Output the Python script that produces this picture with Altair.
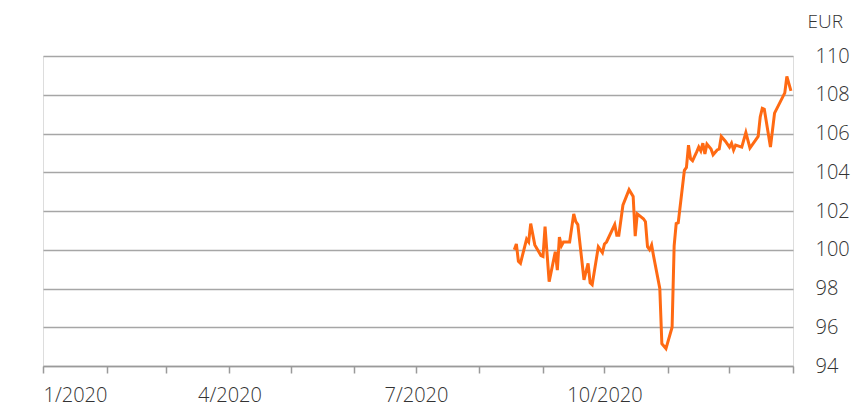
import altair as alt
import pandas as pd

dates = [
    "2020-08-18", "2020-08-19", "2020-08-20", "2020-08-21", "2020-08-24", "2020-08-25",
    "2020-08-26", "2020-08-28", "2020-08-31", "2020-09-01", "2020-09-02", "2020-09-04",
    "2020-09-07", "2020-09-08", "2020-09-09", "2020-09-10", "2020-09-11", "2020-09-14",
    "2020-09-16", "2020-09-17", "2020-09-18", "2020-09-21", "2020-09-23", "2020-09-24",
    "2020-09-25", "2020-09-28", "2020-09-30", "2020-10-01", "2020-10-02", "2020-10-06",
    "2020-10-07", "2020-10-08", "2020-10-10", "2020-10-13", "2020-10-15", "2020-10-16",
    "2020-10-17", "2020-10-20", "2020-10-21", "2020-10-22", "2020-10-23", "2020-10-24",
    "2020-10-25", "2020-10-28", "2020-10-29", "2020-10-31", "2020-11-03", "2020-11-04",
    "2020-11-05", "2020-11-06", "2020-11-09", "2020-11-10", "2020-11-11", "2020-11-12",
    "2020-11-13", "2020-11-15", "2020-11-16", "2020-11-17", "2020-11-18", "2020-11-19",
    "2020-11-20", "2020-11-22", "2020-11-23", "2020-11-25", "2020-11-26", "2020-11-27",
    "2020-11-29", "2020-12-01", "2020-12-02", "2020-12-03", "2020-12-04", "2020-12-07",
    "2020-12-09", "2020-12-11", "2020-12-15", "2020-12-16", "2020-12-17", "2020-12-18",
    "2020-12-21", "2020-12-23", "2020-12-28", "2020-12-29", "2020-12-31",
]
prices = [
    100.0, 100.3, 99.4, 99.3, 100.55, 100.4,
    101.35, 100.25, 99.7, 99.65, 101.2, 98.35,
    99.9, 98.95, 100.65, 100.2, 100.4, 100.4,
    101.85, 101.45, 101.3, 98.45, 99.3, 98.3,
    98.2, 100.15, 99.85, 100.3, 100.4, 101.3,
    100.75, 100.75, 102.3, 103.1, 102.75, 100.7,
    101.85, 101.6, 101.45, 100.15, 100.0, 100.25,
    99.65, 98.0, 95.15, 94.9, 96.0, 100.2,
    101.35, 101.4, 104.1, 104.25, 105.4, 104.7,
    104.6, 105.05, 105.3, 105.1, 105.5, 104.95,
    105.45, 105.2, 104.9, 105.15, 105.2, 105.85,
    105.6, 105.3, 105.5, 105.15, 105.4, 105.3,
    106.05, 105.25, 105.85, 106.85, 107.3, 107.25,
    105.3, 107.05, 108.1, 108.95, 108.2,
]
y_ticks = [94, 96, 98, 100, 102, 104, 106, 108, 110]
month_ticks = list(range(1, 13))

df = pd.DataFrame({"date": dates, "price": prices})

tick_values = [alt.DateTime(year=2020, month=m, date=1, utc=True) for m in month_ticks] + [
    alt.DateTime(year=2021, month=1, date=1, utc=True)
]

FONT = "Open Sans"

chart = (
    alt.Chart(df)
    .mark_line(color="#FF6A13", strokeWidth=3)
    .encode(
        x=alt.X(
            "date:T",
            scale=alt.Scale(
                type="utc",
                domain=[
                    alt.DateTime(year=2020, month=1, date=1, utc=True),
                    alt.DateTime(year=2021, month=1, date=1, utc=True),
                ],
            ),
            axis=alt.Axis(
                values=tick_values,
                labelExpr="(utcmonth(datum.value) % 3 == 0 && utcyear(datum.value) == 2020) ? utcFormat(datum.value, '%-m/%Y') : ''",
                grid=False,
                domainColor="#9a9a9a",
                domainWidth=1.5,
                tickColor="#9a9a9a",
                tickWidth=1.5,
                tickSize=7,
                labelFont=FONT,
                labelFontSize=20,
                labelFontWeight=300,
                labelColor="#333333",
                labelPadding=12,
                labelOverlap=False,
                title=None,
            ),
        ),
        y=alt.Y(
            "price:Q",
            scale=alt.Scale(domain=[94, 110], nice=False, zero=False),
            axis=alt.Axis(
                orient="right",
                values=y_ticks,
                grid=True,
                gridColor="#a6a6a6",
                gridWidth=1.5,
                domain=False,
                ticks=False,
                labelAlign="left",
                labelBaseline="middle",
                labelPadding=22,
                labelFont=FONT,
                labelFontSize=20,
                labelFontWeight=300,
                labelColor="#333333",
                title="EUR",
                titleAngle=0,
                titleAlign="left",
                titleBaseline="middle",
                titleX=14,
                titleY=-35,
                titleFont=FONT,
                titleFontSize=19,
                titleFontWeight=300,
                titleColor="#333333",
            ),
        ),
    )
    .properties(
        width=750,
        height=310,
        autosize=alt.AutoSizeParams(type="none"),
        padding={"left": 35, "top": 48, "right": 60, "bottom": 40},
    )
    .configure_view(stroke=None)
    .configure(background="white")
)

chart.save("out.html", embed_options={"renderer": "svg", "actions": False})
